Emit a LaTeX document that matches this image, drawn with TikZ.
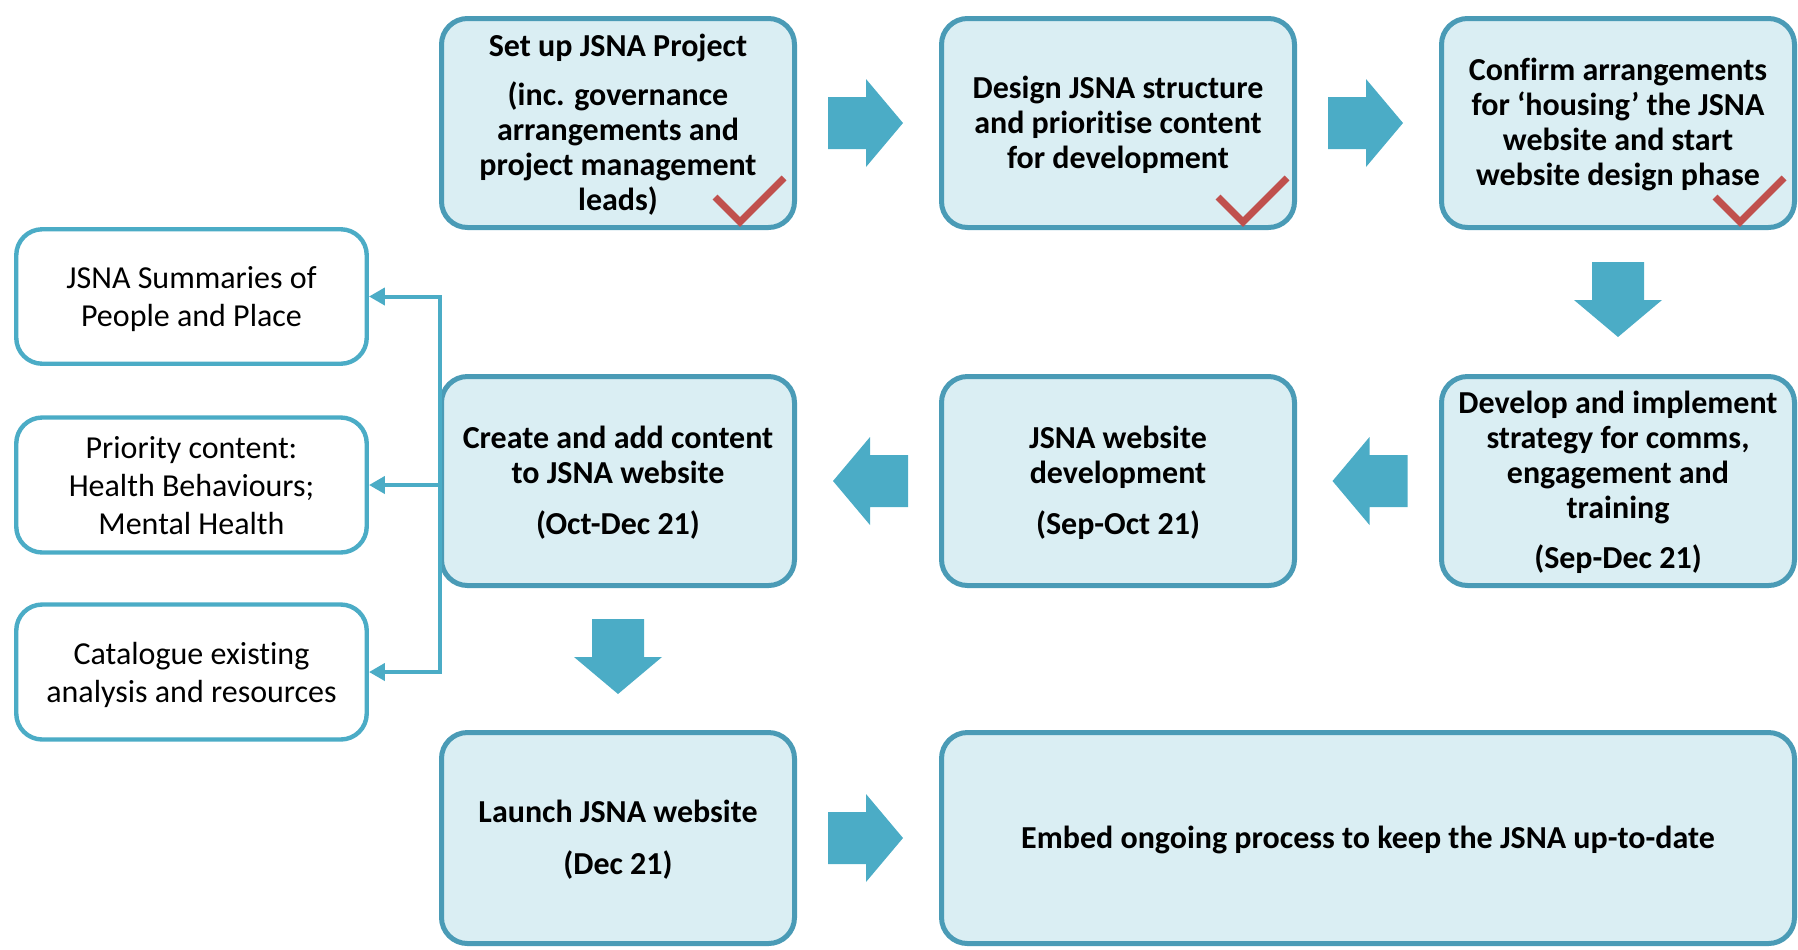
\documentclass[tikz,border=0pt]{standalone}
\usepackage{fontspec}
\setmainfont{Carlito}[Ligatures={TeX,NoCommon}]
\usetikzlibrary{arrows.meta,calc}
\definecolor{boxfill}{HTML}{DAEEF3}
\definecolor{boxline}{HTML}{4A9BB6}
\definecolor{accent}{HTML}{4BACC6}
\definecolor{tickred}{HTML}{C0504D}
\newcommand\tstrut{\rule[-3pt]{0pt}{16pt}}
\newcommand\sstrut{\rule[-3pt]{0pt}{17pt}}
\tikzset{
 stage/.style={draw=boxline, fill=boxfill, line width=2.5pt, rounded corners=13pt,
   minimum width=176.5pt, minimum height=104.5pt, align=center,
   font=\bfseries\fontsize{16}{17.5}\selectfont, inner sep=0pt},
 side/.style={draw=accent, fill=white, line width=2.2pt, rounded corners=13pt,
   minimum width=175.25pt, minimum height=67.5pt, align=center,
   font=\fontsize{16}{19}\selectfont, inner sep=0pt},
 conn/.style={draw=accent, line width=2pt},
 tip/.style={-{Triangle[length=8pt,width=8.5pt]}},
 tickmark/.style={draw=tickred, line width=3.5pt},
 blockarr/.pic={\fill[accent] (-37.5,-26) -- (0.5,-26) -- (0.5,-44) -- (37.5,0) -- (0.5,44) -- (0.5,26) -- (-37.5,26) -- cycle;}
}
\begin{document}
\begin{tikzpicture}[x=0.5pt,y=-0.5pt]
\useasboundingbox (0,0) rectangle (1798,949);
% row 1
\node[stage] (b1) at (618,123) {\tstrut Set up JSNA Project\\[7.2pt](inc. governance\\arrangements and\\project management\\leads)};
\node[stage] (b2) at (1118,123) {\tstrut Design JSNA structure\\and prioritise content\\for development};
\node[stage] (b3) at (1618,123) {\tstrut Confirm arrangements\\for ‘housing’ the JSNA\\website and start\\website design phase};
% row 2
\node[stage] (b4) at (1618,481) {\tstrut Develop and implement\\strategy for comms,\\engagement and\\training\\[7.5pt](Sep-Dec 21)};
\node[stage] (b5) at (1118,481) {\tstrut JSNA website\\development\\[8.2pt](Sep-Oct 21)};
\node[stage] (b6) at (618,481) {\tstrut Create and add content\\to JSNA website\\[8.2pt](Oct-Dec 21)};
% row 3
\node[stage, minimum height=105.5pt] (b7) at (618,838) {\tstrut Launch JSNA website\\[8.2pt](Dec 21)};
\node[stage, minimum width=426.5pt, minimum height=105.5pt] (b8) at (1368,838) {\tstrut Embed ongoing process to keep the JSNA up-to-date};
% side boxes
\node[side, minimum height=67.25pt] (sA) at (191.5,296.5) {\sstrut JSNA Summaries of\\\sstrut People and Place};
\node[side] (sB) at (191.5,485) {\sstrut Priority content:\\Health Behaviours;\\\sstrut Mental Health};
\node[side] (sC) at (191.5,672) {\sstrut Catalogue existing\\\sstrut analysis and resources};
% block arrows
\pic at ($(b1.east)!0.5!(b2.west)+(-2.5,0)$) {blockarr};
\pic at ($(b2.east)!0.5!(b3.west)+(-2.5,0)$) {blockarr};
\pic[rotate=-90] at ($(b3.south)!0.5!(b4.north)+(0,-2.5)$) {blockarr};
\pic[rotate=180] at ($(b4.west)!0.5!(b5.east)+(2,0)$) {blockarr};
\pic[rotate=180] at ($(b5.west)!0.5!(b6.east)+(2.5,0)$) {blockarr};
\pic[rotate=-90] at ($(b6.south)!0.5!(b7.north)+(0,-2.5)$) {blockarr};
\pic at ($(b7.east)!0.5!(b8.west)+(-2.5,0)$) {blockarr};
% ticks
\foreach \b/\dx in {b1/0,b2/3,b3/0}{
  \draw[tickmark] ([shift={(-82+\dx,-33)}]\b.south east) -- ([shift={(-57+\dx,-8)}]\b.south east) -- ([shift={(-13+\dx,-52)}]\b.south east);
}
% connectors
\draw[conn, tip] ($(b6.west |- sC.east)+(1,0)$) -- ($(b6.west |- sA.east)+(1,0)$) -- (sA.east);
\draw[conn, tip] ($(b6.west |- sB.east)+(1,0)$) -- (sB.east);
\draw[conn, tip, line cap=rect] ($(b6.west |- sC.east)+(1,0)$) -- (sC.east);
\end{tikzpicture}
\end{document}
